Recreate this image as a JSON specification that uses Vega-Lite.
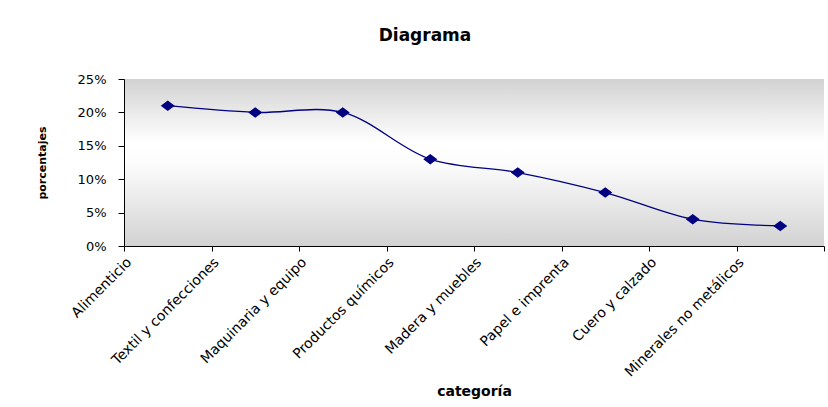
{
  "$schema": "https://vega.github.io/schema/vega-lite/v6.json",
  "width": 700,
  "height": 167,
  "autosize": {"type": "none"},
  "padding": {"left": 124, "top": 79, "right": 4, "bottom": 161},
  "background": "white",
  "title": {
    "text": "Diagrama",
    "font": "DejaVu Sans",
    "fontSize": 17,
    "fontWeight": "bold",
    "color": "black",
    "anchor": "middle",
    "dx": -49,
    "offset": 28
  },
  "config": {
    "font": "DejaVu Sans",
    "view": {
      "stroke": null,
      "fill": {
        "gradient": "linear",
        "x1": 0, "y1": 0, "x2": 0, "y2": 1,
        "stops": [
          {"offset": 0, "color": "#d2d2d2"},
          {"offset": 0.38, "color": "#ffffff"},
          {"offset": 0.5, "color": "#fdfdfd"},
          {"offset": 1, "color": "#d2d2d2"}
        ]
      }
    },
    "axis": {
      "domainColor": "black",
      "tickColor": "black",
      "labelColor": "black",
      "titleColor": "black",
      "grid": false,
      "labelFont": "DejaVu Sans",
      "titleFont": "DejaVu Sans",
      "titleFontWeight": "bold"
    }
  },
  "data": {
    "values": [
      {"categoria": "Alimenticio", "porcentaje": 0.21},
      {"categoria": "Textil y confecciones", "porcentaje": 0.20},
      {"categoria": "Maquinaria y equipo", "porcentaje": 0.20},
      {"categoria": "Productos químicos", "porcentaje": 0.13},
      {"categoria": "Madera y muebles", "porcentaje": 0.11},
      {"categoria": "Papel e imprenta", "porcentaje": 0.08},
      {"categoria": "Cuero y calzado", "porcentaje": 0.04},
      {"categoria": "Minerales no metálicos", "porcentaje": 0.03}
    ]
  },
  "encoding": {
    "x": {
      "field": "categoria",
      "type": "nominal",
      "sort": null,
      "scale": {"type": "band", "paddingInner": 0, "paddingOuter": 0},
      "axis": {
        "title": "categoría",
        "titleFontSize": 14,
        "titlePadding": 5,
        "tickBand": "extent",
        "labelOffset": -43.75,
        "labelAngle": -45,
        "labelAlign": "right",
        "labelBaseline": "top",
        "labelFontSize": 14,
        "labelPadding": 4,
        "tickSize": 5,
        "labelLimit": 250
      }
    },
    "y": {
      "field": "porcentaje",
      "type": "quantitative",
      "scale": {"domain": [0, 0.25], "nice": false},
      "axis": {
        "title": "porcentajes",
        "titleFontSize": 11,
        "titlePadding": 30,
        "values": [0, 0.05, 0.1, 0.15, 0.2, 0.25],
        "format": ".0%",
        "labelFontSize": 13,
        "labelPadding": 12,
        "tickSize": 6
      }
    }
  },
  "layer": [
    {
      "mark": {"type": "line", "interpolate": "catmull-rom", "color": "#000080", "strokeWidth": 1.3}
    },
    {
      "mark": {
        "type": "point",
        "shape": "M-1,0L0,-0.75L1,0L0,0.75Z",
        "filled": true,
        "color": "#000080",
        "opacity": 1,
        "size": 196
      }
    }
  ]
}
